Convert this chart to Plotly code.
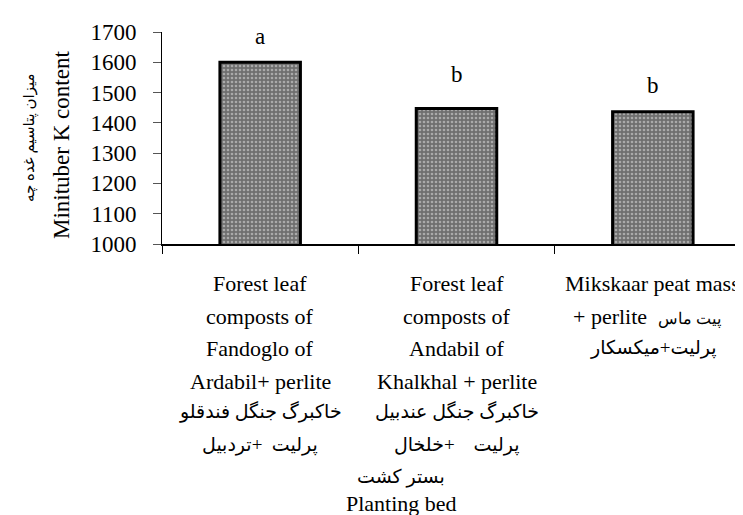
import plotly.graph_objects as go

# ---- data ----
categories = ["Fandoglo-Ardabil", "Andabil-Khalkhal", "Mikskaar"]
values = [1600, 1447, 1437]
letters = ["a", "b", "b"]
label_lines = [
    ["Forest leaf", "composts of", "Fandoglo of", "Ardabil+ perlite",
     "خاکبرگ جنگل فندقلو", "پرلیت\u00a0\u00a0+تردبیل"],
    ["Forest leaf", "composts of", "Andabil of", "Khalkhal + perlite",
     "خاکبرگ جنگل عندبیل", "پرلیت\u00a0\u00a0\u00a0\u00a0+خلخال"],
    ["Mikskaar peat mass", "+ perlite\u00a0 <span style='font-size:16px'>پیت ماس</span>",
     "پرلیت+میکسکار"],
]
y_title_en = "Minituber K content"
y_title_fa = "میزان پتاسیم غده چه"
x_title_fa = "بستر کشت"
x_title_en = "Planting bed"
y_ticks = [1000, 1100, 1200, 1300, 1400, 1500, 1600, 1700]

SERIF = "Liberation Serif, Times New Roman, serif"
FA = "Liberation Serif, DejaVu Sans, serif"

W, H = 743, 515
ML, MR, MT, MB = 154, 0, 24, 279
plot_h = H - MT - MB
plot_bottom = MT + plot_h

fig = go.Figure(go.Bar(
    x=categories, y=values, width=0.41,
    marker=dict(color="#6f6f6f",
                line=dict(color="black", width=3),
                pattern=dict(shape=".", fgcolor="#e6e6e6", bgcolor="#6f6f6f",
                             size=4, solidity=0.35)),
    hoverinfo="skip",
))

def is_fa(s):
    return any("\u0600" <= ch <= "\u06FF" for ch in s) and "perlite" not in s

line_y = [275, 308, 340, 373, 403, 437]
ann = []
for cat, lines in zip(categories, label_lines):
    for i, txt in enumerate(lines):
        fa = is_fa(txt)
        ann.append(dict(x=cat, xref="x", y=0, yref="paper", yanchor="middle",
                        xanchor="center", showarrow=False,
                        xshift=-6 if "perlite\u00a0" in txt else 0,
                        yshift=plot_bottom - line_y[i], text=txt,
                        font=dict(family=FA if fa else SERIF,
                                  size=19 if fa else 22, color="black")))

letter_shift = [26, 34, 26]
for cat, v, t, s in zip(categories, values, letters, letter_shift):
    ann.append(dict(x=cat, y=v, xref="x", yref="y", text=t, showarrow=False,
                    yanchor="middle", yshift=s,
                    font=dict(family=SERIF, size=23, color="black")))

# axis titles
ann.append(dict(x=0, xref="paper", xshift=53 - ML, y=(plot_bottom - 137) / plot_h,
                yref="paper", text=y_title_en, textangle=-90, showarrow=False,
                xanchor="center", yanchor="middle",
                font=dict(family=SERIF, size=23, color="black")))
ann.append(dict(x=0, xref="paper", xshift=22 - ML, y=(plot_bottom - 130) / plot_h,
                yref="paper", text=y_title_fa, textangle=-90, showarrow=False,
                xanchor="center", yanchor="middle",
                font=dict(family=FA, size=15, color="black")))
xt = (393 - ML) / (W - ML - MR)
ann.append(dict(x=xt, xref="paper", y=0, yref="paper", yshift=plot_bottom - 469,
                text=x_title_fa, showarrow=False, xanchor="center", yanchor="middle",
                font=dict(family=FA, size=19, color="black")))
ann.append(dict(x=xt, xref="paper", y=0, yref="paper", yshift=plot_bottom - 495,
                text=x_title_en, showarrow=False, xanchor="center", yanchor="middle",
                font=dict(family=SERIF, size=22, color="black")))

fig.update_layout(
    width=W, height=H,
    margin=dict(l=ML, r=MR, t=MT, b=MB, pad=0),
    paper_bgcolor="white", plot_bgcolor="white",
    showlegend=False,
    annotations=ann,
    xaxis=dict(type="category", range=[-0.5, 2.5], showline=True, linecolor="black",
               linewidth=1.5, ticks="outside", tickson="boundaries", ticklen=8,
               tickcolor="black", tickwidth=1, showticklabels=False, showgrid=False,
               zeroline=False, fixedrange=True),
    yaxis=dict(range=[1000, 1700], tickvals=y_ticks, showline=True, linecolor="black",
               linewidth=1, ticks="outside", ticklen=8, tickcolor="#555",
               tickfont=dict(family=SERIF, size=23, color="black"),
               ticklabelstandoff=12, showgrid=False, zeroline=False, fixedrange=True),
)

fig.write_html("out.html")
